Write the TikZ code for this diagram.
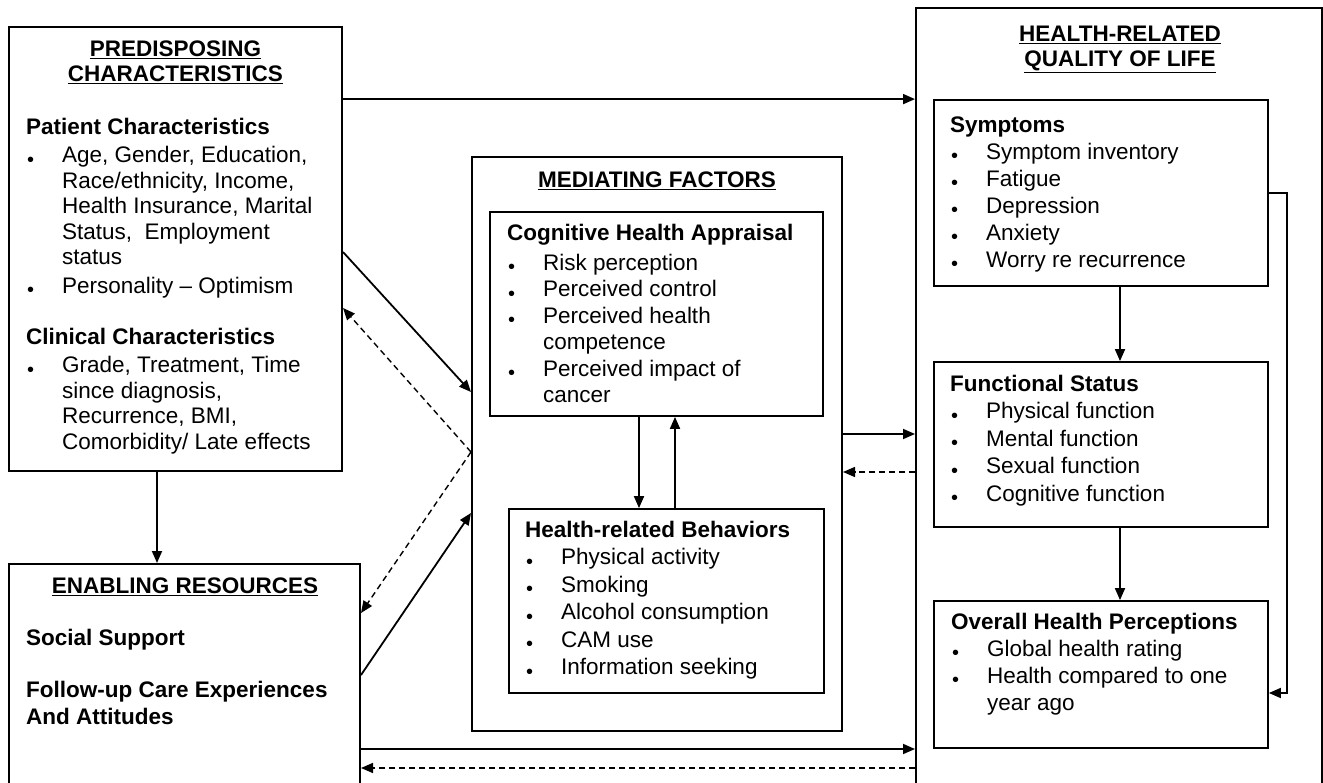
\documentclass[tikz,border=0pt]{standalone}
\usepackage{fontspec}
\setmainfont{Liberation Sans}
\usetikzlibrary{arrows.meta}
\newcommand{\blt}{\makebox[36pt][l]{\hspace{1pt}\fontsize{20}{20}\selectfont\raisebox{-3.5pt}{\textbullet}}}
\newcommand{\ind}{\hspace*{36pt}}
\tikzset{
  bigbox/.style={draw, line width=2pt, inner sep=0pt},
  subbox/.style={draw, line width=1.8pt, inner sep=0pt},
  txt/.style={anchor=north west, inner sep=0pt, align=left, font=\fontsize{22.5}{#1}\selectfont},
  hd/.style={anchor=north, inner sep=0pt, align=center, font=\fontsize{22.5}{25}\selectfont\bfseries},
  arr/.style={line width=1.8pt, -{Triangle[length=12pt,width=10pt]}},
  darr/.style={line width=1.4pt, -{Triangle[length=12pt,width=10pt]}, dash pattern=on 6pt off 4pt}
}
\begin{document}
\begin{tikzpicture}[x=1pt, y=-1pt]
  \useasboundingbox (0,0) rectangle (1323,783);
  \clip (0,0) rectangle (1323,783);

  \node (pred) at (175.5,249) [bigbox, minimum width=333, minimum height=444] {};
  \node (enab) at (184.5,682) [bigbox, minimum width=351, minimum height=236] {};
  \node (med) at (657,444) [bigbox, minimum width=370, minimum height=574] {};
  \node (cog) at (656.5,314) [subbox, minimum width=333, minimum height=204] {};
  \node (beh) at (666.5,601) [subbox, minimum width=315, minimum height=184] {};
  \node (hrq) at (1119,404) [bigbox, minimum width=406, minimum height=792] {};
  \node (sym) at (1101,193) [subbox, minimum width=334, minimum height=186] {};
  \node (fun) at (1101,444.5) [subbox, minimum width=334, minimum height=165] {};
  \node (ovr) at (1101,674.5) [subbox, minimum width=334, minimum height=147] {};

  \node (predhd) at (175.5,39.2) [hd] {\strut\underline{PREDISPOSING}\\\underline{CHARACTERISTICS}};
  \node (enabhd) at (185,575.5) [hd] {\strut\underline{ENABLING RESOURCES}};
  \node (medhd) at (657,169.5) [hd] {\strut\underline{MEDIATING FACTORS}};
  \node (hrqhd) at (1120,24) [hd] {\strut\underline{HEALTH-RELATED}\\\underline{QUALITY OF LIFE}};

  \node (predtxt) at (26,116) [txt=25.5] {\strut\textbf{Patient Characteristics}\\[3pt]
    \blt Age, Gender, Education,\\
    \ind Race/ethnicity, Income,\\
    \ind Health Insurance, Marital\\
    \ind Status,\ \ Employment\\
    \ind status\\[3pt]
    \blt Personality – Optimism\\[25.5pt]
    \textbf{Clinical Characteristics}\\[3pt]
    \blt Grade, Treatment, Time\\
    \ind since diagnosis,\\
    \ind Recurrence, BMI,\\
    \ind Comorbidity/ Late effects};
  \node (enabtxt) at (26,626) [txt=27] {\strut\textbf{Social Support}\\[25pt]
    \textbf{Follow-up Care Experiences}\\
    \textbf{And Attitudes}};
  \node (cogtxt) at (507,221.5) [txt=26.5] {\strut\textbf{Cognitive Health Appraisal}\\[3.5pt]
    \blt Risk perception\\
    \blt Perceived control\\
    \blt Perceived health\\
    \ind competence\\
    \blt Perceived impact of\\
    \ind cancer};
  \node (behtxt) at (525,517.75) [txt=27.5] {\strut\textbf{Health-related Behaviors}\\
    \blt Physical activity\\
    \blt Smoking\\
    \blt Alcohol consumption\\
    \blt CAM use\\
    \blt Information seeking};
  \node (symtxt) at (950,113) [txt=27] {\strut\textbf{Symptoms}\\
    \blt Symptom inventory\\
    \blt Fatigue\\
    \blt Depression\\
    \blt Anxiety\\
    \blt Worry re recurrence};
  \node (funtxt) at (950,371.75) [txt=27.5] {\strut\textbf{Functional Status}\\
    \blt Physical function\\
    \blt Mental function\\
    \blt Sexual function\\
    \blt Cognitive function};
  \node (ovrtxt) at (951,610.1) [txt=27] {\strut\textbf{Overall Health Perceptions}\\
    \blt Global health rating\\
    \blt Health compared to one\\
    \ind year ago};

  \draw[arr] (pred.east |- sym.north) -- (hrq.west |- sym.north);
  \draw[arr] (pred.south -| 157,0) -- (enab.north -| 157,0);
  \draw[arr] (pred.east |- 0,252) -- (med.west |- 0,392);
  \draw[darr] (med.west |- 0,452) -- (pred.east |- 0,308);
  \draw[darr] (med.west |- 0,452) -- (enab.east |- 0,613);
  \draw[arr] (enab.east |- 0,675) -- (med.west |- 0,513);
  \draw[arr] (cog.south -| 639,0) -- (beh.north -| 639,0);
  \draw[arr] (beh.north -| 675,0) -- (cog.south -| 675,0);
  \draw[arr] (med.east |- 0,434) -- (hrq.west |- 0,434);
  \draw[darr] (hrq.west |- 0,472) -- (med.east |- 0,472);
  \draw[arr] (enab.east |- 0,749) -- (hrq.west |- 0,749);
  \draw[darr] (hrq.west |- 0,768) -- (enab.east |- 0,768);
  \draw[arr] (sym.south -| 1120,0) -- (fun.north -| 1120,0);
  \draw[arr] (fun.south -| 1120,0) -- (ovr.north -| 1120,0);
  \draw[arr] (sym.east |- 0,193) -- ++(18,0) |- (ovr.east |- 0,693);
\end{tikzpicture}
\end{document}
